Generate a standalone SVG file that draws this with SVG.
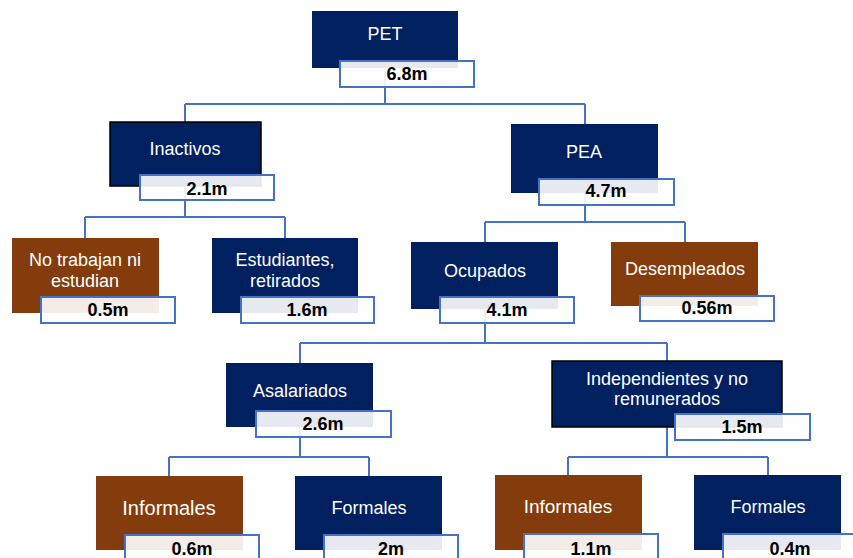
<svg xmlns="http://www.w3.org/2000/svg" width="853" height="558" viewBox="0 0 853 558">
<style>
.navy{fill:#002060}
.brown{fill:#843c0c}
.edge{stroke:#000;stroke-width:1.5}
.val{fill:#fff;fill-opacity:0.9;stroke:#4472c4;stroke-width:2}
.lbl{font-family:"Liberation Sans",Arial,sans-serif;font-size:18px;fill:#fff;text-anchor:middle}
.num{font-family:"Liberation Sans",Arial,sans-serif;font-size:18px;font-weight:bold;fill:#000;text-anchor:middle}
.conn{fill:none;stroke:#4472c4;stroke-width:2}
</style>
<rect width="853" height="558" fill="#fff"/>
<g id="connectors">
<path class="conn" d="M385 68V104M185 104H585M185 104V122M585 104V124"/>
<path class="conn" d="M185 186V217M85 217H285M85 217V238M285 217V238"/>
<path class="conn" d="M585 193V222M485 222H685M485 222V242M685 222V242"/>
<path class="conn" d="M485 309V343M300 343H667M300 343V363M667 343V361"/>
<path class="conn" d="M300 427V457M169 457H369M169 457V476M369 457V476"/>
<path class="conn" d="M667 427V457M568 457H768M568 457V475M768 457V475"/>
</g>
<g id="pet">
<rect class="navy" x="312" y="11" width="146" height="57"/>
<text class="lbl" x="385" y="40">PET</text>
<rect class="val" x="340" y="61" width="134" height="26"/>
<text class="num" x="407" y="80">6.8m</text>
</g>
<g id="inactivos">
<rect class="navy edge" x="110" y="122" width="151" height="64"/>
<text class="lbl" x="185" y="155">Inactivos</text>
<rect class="val" x="140" y="175" width="134" height="25"/>
<text class="num" x="207" y="195">2.1m</text>
</g>
<g id="pea">
<rect class="navy" x="511" y="124" width="147" height="69"/>
<text class="lbl" x="584" y="158">PEA</text>
<rect class="val" x="539" y="179" width="135" height="26"/>
<text class="num" x="606" y="197">4.7m</text>
</g>
<g id="no-trabajan">
<rect class="brown" x="12" y="238" width="147" height="75"/>
<text class="lbl" x="85" y="266">No trabajan ni</text>
<text class="lbl" x="85" y="287">estudian</text>
<rect class="val" x="41" y="297" width="134" height="26"/>
<text class="num" x="108" y="316">0.5m</text>
</g>
<g id="estudiantes">
<rect class="navy" x="212" y="238" width="146" height="75"/>
<text class="lbl" x="285" y="266">Estudiantes,</text>
<text class="lbl" x="285" y="287">retirados</text>
<rect class="val" x="241" y="297" width="133" height="26"/>
<text class="num" x="307" y="316">1.6m</text>
</g>
<g id="ocupados">
<rect class="navy" x="411" y="242" width="147" height="67"/>
<text class="lbl" x="485" y="277">Ocupados</text>
<rect class="val" x="440" y="297" width="134" height="26"/>
<text class="num" x="507" y="316">4.1m</text>
</g>
<g id="desempleados">
<rect class="brown" x="611" y="242" width="147" height="64"/>
<text class="lbl" x="685" y="275">Desempleados</text>
<rect class="val" x="640" y="296" width="134" height="25"/>
<text class="num" x="707" y="314">0.56m</text>
</g>
<g id="asalariados">
<rect class="navy" x="226" y="363" width="147" height="64"/>
<text class="lbl" x="300" y="397">Asalariados</text>
<rect class="val" x="256" y="411" width="135" height="26"/>
<text class="num" x="323" y="430">2.6m</text>
</g>
<g id="independientes">
<rect class="navy edge" x="552" y="361" width="230" height="66"/>
<text class="lbl" x="667" y="385">Independientes y no</text>
<text class="lbl" x="667" y="405">remunerados</text>
<rect class="val" x="675" y="414" width="135" height="26"/>
<text class="num" x="742" y="433">1.5m</text>
</g>
<g id="informales-asal">
<rect class="brown" x="96" y="476" width="147" height="74"/>
<text class="lbl" x="169" y="515" style="font-size:20px">Informales</text>
<rect class="val" x="125" y="535" width="134" height="30"/>
<text class="num" x="192" y="555">0.6m</text>
</g>
<g id="formales-asal">
<rect class="navy" x="295" y="476" width="147" height="74"/>
<text class="lbl" x="369" y="514">Formales</text>
<rect class="val" x="324" y="535" width="134" height="30"/>
<text class="num" x="391" y="555">2m</text>
</g>
<g id="informales-indep">
<rect class="brown" x="495" y="475" width="147" height="75"/>
<text class="lbl" x="568" y="513" style="font-size:19px">Informales</text>
<rect class="val" x="524" y="534" width="134" height="30"/>
<text class="num" x="591" y="555">1.1m</text>
</g>
<g id="formales-indep">
<rect class="navy" x="694" y="475" width="147" height="75"/>
<text class="lbl" x="768" y="513">Formales</text>
<rect class="val" x="723" y="534" width="134" height="30"/>
<text class="num" x="790" y="555">0.4m</text>
</g>
</svg>
